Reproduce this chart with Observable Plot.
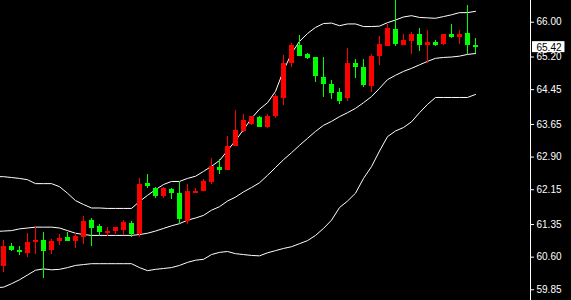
<!DOCTYPE html>
<html><head><meta charset="utf-8">
<script src="https://cdn.jsdelivr.net/npm/d3@7"></script>
<script src="https://cdn.jsdelivr.net/npm/@observablehq/plot@0.6"></script>
<style>html,body{margin:0;padding:0;background:#000;overflow:hidden}</style>
</head><body><div id="chart"></div>
<script>
// Candles (prices)
const open = [60.38,60.84,60.76,60.68,60.94,60.99,60.76,60.97,61.05,60.97,
  61.06,61.44,61.30,61.15,61.20,61.21,61.37,61.12,62.29,62.18,
  61.99,62.15,62.06,61.43,62.06,62.12,62.32,62.66,62.59,63.14,
  63.49,63.65,63.81,63.58,63.83,64.25,65.05,65.46,65.26,65.19,
  64.73,64.57,64.38,64.25,65.05,64.96,64.52,65.21,65.44,65.83,
  65.46,65.56,65.72,65.46,65.53,65.49,65.72,65.65,65.74,65.46];
const high = [60.98,60.91,60.84,61.14,61.29,61.17,61.01,61.12,61.17,61.14,
  61.53,61.48,61.34,61.28,61.28,61.44,61.42,62.41,62.50,62.20,
  62.20,62.18,62.34,62.27,62.18,62.38,62.87,62.84,63.37,63.97,
  63.88,63.83,63.83,63.88,64.34,65.23,65.51,65.69,65.28,65.19,
  65.19,64.66,64.48,65.40,65.14,65.14,65.26,65.67,65.95,66.50,
  65.72,65.76,65.86,65.81,65.58,65.72,65.95,65.81,66.38,65.63];
const low = [60.25,60.73,60.64,60.60,60.67,60.12,60.67,60.87,60.97,60.81,
  60.90,60.85,61.10,61.08,61.13,61.10,61.06,61.06,62.18,61.95,
  61.95,61.92,61.36,61.36,62.06,62.11,62.27,62.50,62.59,63.14,
  63.46,63.63,63.58,63.56,63.79,64.09,64.96,65.21,65.14,64.61,
  64.27,64.22,64.11,64.18,64.71,64.50,64.38,65.01,65.44,65.44,
  65.46,65.26,65.33,65.05,65.44,65.46,65.63,65.49,65.26,65.28];
const close = [60.84,60.75,60.71,60.94,60.99,60.74,60.97,61.03,60.97,61.07,
  61.43,61.25,61.17,61.20,61.28,61.40,61.13,62.27,62.22,61.99,
  62.18,62.06,61.47,62.11,62.11,62.34,62.68,62.59,63.14,63.51,
  63.74,63.83,63.58,63.83,64.29,65.05,65.46,65.21,65.17,64.75,
  64.57,64.36,64.18,65.05,64.96,64.55,65.21,65.49,65.86,65.49,
  65.58,65.72,65.46,65.53,65.46,65.72,65.65,65.72,65.46,65.42];

// Bollinger bands (first value belongs to the bar just left of the view)
const upperBand = [62.45,
  62.45,62.43,62.41,62.38,62.29,62.29,62.29,62.22,62.07,61.90,
  61.81,61.73,61.73,61.72,61.72,61.72,61.72,61.88,62.02,62.15,
  62.27,62.34,62.34,62.41,62.46,62.57,62.69,62.82,63.05,63.28,
  63.53,63.79,64.00,64.15,64.41,64.89,65.28,65.56,65.74,65.88,
  65.97,65.98,65.92,65.96,65.96,65.90,65.90,65.91,65.99,66.05,
  66.12,66.15,66.11,66.10,66.09,66.13,66.17,66.22,66.22,66.25];
const middleBand = [61.19,
  61.20,61.21,61.25,61.27,61.29,61.29,61.29,61.27,61.21,61.15,
  61.12,61.10,61.10,61.10,61.10,61.10,61.10,61.12,61.15,61.20,
  61.26,61.32,61.37,61.45,61.50,61.56,61.68,61.76,61.89,61.98,
  62.10,62.20,62.31,62.48,62.66,62.84,63.00,63.17,63.33,63.49,
  63.63,63.72,63.83,63.92,64.02,64.15,64.29,64.48,64.68,64.78,
  64.87,64.94,65.02,65.10,65.17,65.19,65.20,65.22,65.26,65.28];
const lowerBand = [59.90,
  59.91,59.99,60.08,60.19,60.30,60.33,60.31,60.32,60.36,60.41,
  60.43,60.45,60.45,60.45,60.45,60.45,60.45,60.36,60.29,60.32,
  60.34,60.36,60.41,60.48,60.53,60.55,60.66,60.71,60.73,60.68,
  60.66,60.64,60.63,60.70,60.75,60.80,60.84,60.91,60.98,61.10,
  61.26,61.45,61.74,61.89,62.07,62.41,62.68,63.04,63.37,63.50,
  63.58,63.71,63.92,64.11,64.27,64.27,64.27,64.27,64.27,64.34];

// Price axis tick labels
const tickLabels = ["66.00","65.20","64.45","63.65","62.90","62.15","61.35","60.60","59.85"];

const UP = "#ff0000", DOWN = "#00ff00";
const candles = open.map((o, k) => ({i: k + 1, o, h: high[k], l: low[k], c: close[k]}));
const bands = upperBand.map((u, k) => ({i: k, u, m: middleBand[k], lo: lowerBand[k]}));
const last = candles[candles.length - 1];
const priceText = d3.format(".2f")(last.c);

const chart = Plot.plot({
  width: 571, height: 300,
  marginLeft: 0, marginRight: 41, marginTop: 0, marginBottom: 0,
  style: {background: "#000", color: "#fff", fontFamily: "'Liberation Sans', Arial, sans-serif", fontSize: "10px"},
  x: {domain: [0.625, 66.875], axis: null},
  y: {domain: [59.604, 66.499], axis: null},
  marks: [
    Plot.line(bands, {x: "i", y: "u", stroke: "#fff", strokeWidth: 1, clip: true}),
    Plot.line(bands, {x: "i", y: "m", stroke: "#fff", strokeWidth: 1, clip: true}),
    Plot.line(bands, {x: "i", y: "lo", stroke: "#fff", strokeWidth: 1, clip: true}),
    Plot.ruleX(candles, {x: "i", y1: "l", y2: "h", stroke: d => d.c > d.o ? UP : DOWN, strokeWidth: 1, shapeRendering: "crispEdges", clip: true}),
    Plot.ruleX(candles, {x: "i", y1: "o", y2: "c", stroke: d => d.c > d.o ? UP : DOWN, strokeWidth: 5, shapeRendering: "crispEdges", clip: true}),
    Plot.frame({anchor: "right", stroke: "#fff"}),
    Plot.axisY({anchor: "right", ticks: tickLabels.map(Number), tickFormat: (d, k) => tickLabels[k], tickSize: 3, tickPadding: 3, stroke: "#fff", fill: "#fff"}),
    Plot.text([last], {y: "c", text: () => priceText, frameAnchor: "right", textAnchor: "start", dx: 6, fill: "#000", className: "price-label"})
  ]
});
document.getElementById("chart").append(chart);
const lab = [...chart.querySelectorAll("text")].find(t => t.textContent === priceText && t.getAttribute("fill") !== "#fff" && t.closest("[aria-label='y-axis tick label']") == null);
if (lab) {
  const b = lab.getBBox();
  const r = document.createElementNS("http://www.w3.org/2000/svg", "rect");
  r.setAttribute("x", b.x - 4.5);
  r.setAttribute("y", b.y - 0.5);
  r.setAttribute("width", b.width + 7);
  r.setAttribute("height", b.height);
  r.setAttribute("fill", "#fff");
  if (lab.getAttribute("transform")) r.setAttribute("transform", lab.getAttribute("transform"));
  lab.parentNode.insertBefore(r, lab);
}
</script></body></html>
